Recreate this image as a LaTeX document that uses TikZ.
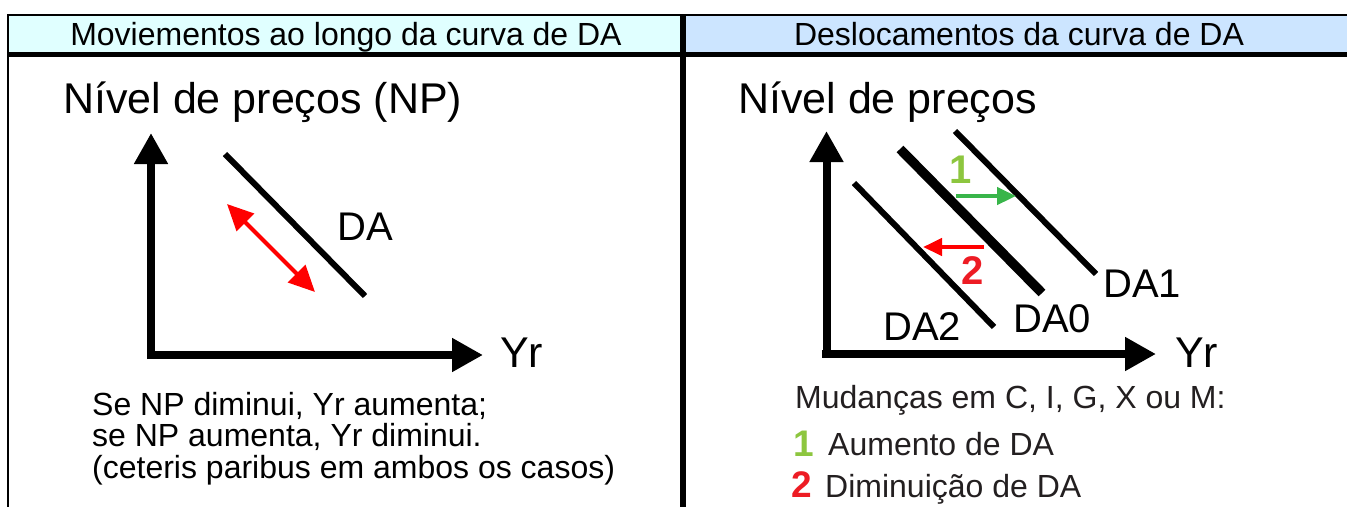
\documentclass[tikz,border=0pt]{standalone}
\usepackage{fontspec}
\setmainfont{Liberation Sans}
\usepackage{xcolor}
\usetikzlibrary{arrows.meta}
\definecolor{headleft}{RGB}{224,255,255}
\definecolor{headright}{RGB}{204,229,255}
\definecolor{shiftgreen}{RGB}{57,181,74}
\definecolor{numgreen}{RGB}{141,198,63}
\definecolor{numred}{RGB}{237,28,36}
\definecolor{legendgray}{RGB}{35,31,32}

\begin{document}
\begin{tikzpicture}[x=1pt, y=-1pt,
    lbl/.style={anchor=base west, inner sep=0pt},
    axisline/.style={line width=8pt, -{Triangle[length=31pt,width=32pt]}},
    curveline/.style={line width=6pt},
    bigtext/.style={font=\fontsize{43}{50}\selectfont},
    midtext/.style={font=\fontsize{40}{46}\selectfont},
    smalltext/.style={font=\fontsize{32}{36}\selectfont}]
    \useasboundingbox (0,0) rectangle (1347,507);

    % Header cells
    \fill[headleft] (8,15) rectangle (683,54);
    \fill[headright] (683,15) rectangle (1347,54);
    \node[anchor=base, inner sep=0pt, smalltext] (hleft) at (346,45) {Moviementos ao longo da curva de DA};
    \node[anchor=base, inner sep=0pt, smalltext] (hright) at (1019,45) {Deslocamentos da curva de DA};

    % Frame lines
    \draw[line width=2pt] (1347,15) -- (8,15) -- (8,507);
    \draw[line width=5.5pt] (8,54.5) -- (1347,54.5);
    \draw[line width=6pt] (683,14) -- (683,507);

    % Left panel: axes
    \coordinate (LYbot) at (151,359);
    \coordinate (LYtop) at (151,133);
    \coordinate (LXleft) at (147,355);
    \coordinate (LXright) at (483,355);
    \draw[axisline] (LYbot) -- (LYtop);
    \draw[axisline] (LXleft) -- (LXright);
    \node[lbl, bigtext] (ltitle) at (63,113) {Nível de preços (NP)};
    \node[lbl, bigtext] (lyr) at (500,367) {Yr};

    % Left panel: DA curve and movement
    \coordinate (DAtop) at (225,154);
    \coordinate (DAbot) at (365,296);
    \draw[curveline] (DAtop) -- (DAbot);
    \node[lbl, midtext] (lda) at (337,240) {DA};
    \coordinate (MVup) at (227,204);
    \coordinate (MVdown) at (315,292);
    \draw[red, line width=4pt, {Triangle[length=26pt,width=24pt]}-{Triangle[length=26pt,width=24pt]}] (MVup) -- (MVdown);

    % Left panel: text
    \node[lbl, smalltext] (ltext1) at (92,415) {Se NP diminui, Yr aumenta;};
    \node[lbl, smalltext] (ltext2) at (92,446) {se NP aumenta, Yr diminui.};
    \node[lbl, smalltext] (ltext3) at (92,478) {(ceteris paribus em ambos os casos)};

    % Right panel: axes
    \coordinate (RYbot) at (826.5,358);
    \coordinate (RYtop) at (826.5,131);
    \coordinate (RXleft) at (822,354);
    \coordinate (RXright) at (1156,354);
    \draw[axisline] (RYbot) -- (RYtop);
    \draw[axisline] (RXleft) -- (RXright);
    \node[lbl, bigtext] (rtitle) at (738,113) {Nível de preços};
    \node[lbl, bigtext] (ryr) at (1175,367) {Yr};

    % Right panel: DA curves
    \coordinate (DAonetop) at (955,131);
    \coordinate (DAonebot) at (1096,274);
    \coordinate (DAzerotop) at (900,149);
    \coordinate (DAzerobot) at (1042,293);
    \coordinate (DAtwotop) at (854,183);
    \coordinate (DAtwobot) at (994,327);
    \draw[curveline] (DAonetop) -- (DAonebot);
    \draw[line width=9.5pt] (DAzerotop) -- (DAzerobot);
    \draw[curveline] (DAtwotop) -- (DAtwobot);
    \node[lbl, midtext] (rda1) at (1103,297) {DA1};
    \node[lbl, midtext] (rda0) at (1013,332) {DA0};
    \node[lbl, midtext] (rda2) at (883,340) {DA2};

    % Right panel: shifts
    \coordinate (UPfrom) at (956,196);
    \coordinate (UPto) at (1016,196);
    \coordinate (DNfrom) at (984,247);
    \coordinate (DNto) at (923,247);
    \draw[shiftgreen, line width=4.5pt, -{Triangle[length=19pt,width=17pt]}] (UPfrom) -- (UPto);
    \draw[red, line width=4.5pt, -{Triangle[length=19pt,width=17pt]}] (DNfrom) -- (DNto);
    \node[lbl, numgreen, font=\fontsize{40}{44}\selectfont\bfseries] (rnum1) at (949,183) {1};
    \node[lbl, numred, font=\fontsize{40}{44}\selectfont\bfseries] (rnum2) at (961,284) {2};

    % Right panel: legend
    \node[lbl, smalltext, legendgray] (rleg) at (795,408) {Mudanças em C, I, G, X ou M:};
    \node[lbl, numgreen, font=\fontsize{37}{40}\selectfont\bfseries] (legnum1) at (793,456) {1};
    \node[lbl, smalltext, legendgray] (leg1) at (828,455) {Aumento de DA};
    \node[lbl, numred, font=\fontsize{37}{40}\selectfont\bfseries] (legnum2) at (791,497) {2};
    \node[lbl, smalltext, legendgray] (leg2) at (825,497) {Diminuição de DA};
\end{tikzpicture}
\end{document}
